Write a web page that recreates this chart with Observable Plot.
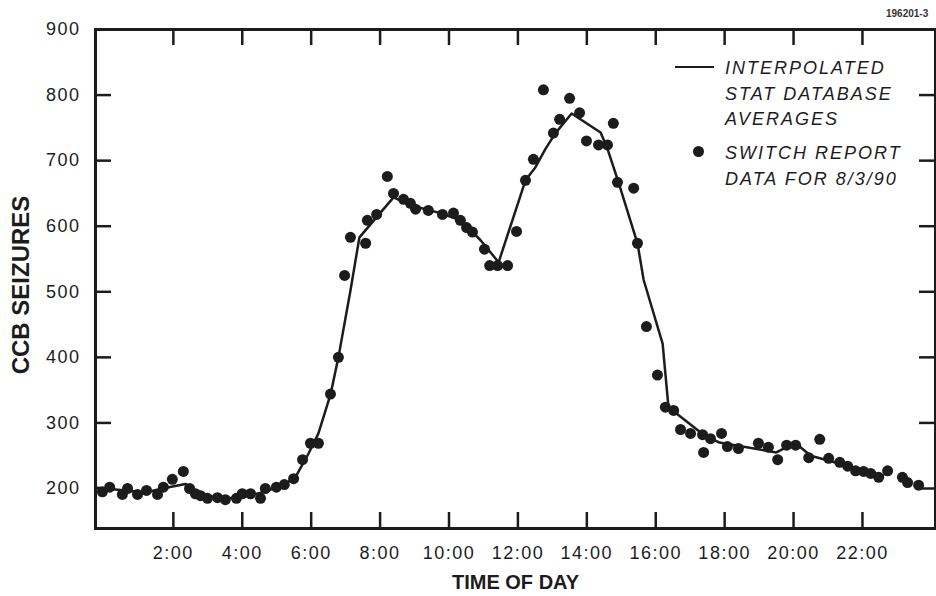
<!DOCTYPE html>
<html>
<head>
<meta charset="utf-8">
<script src="https://cdn.jsdelivr.net/npm/d3@7"></script>
<script src="https://cdn.jsdelivr.net/npm/@observablehq/plot@0.6"></script>
<style>
  html, body { margin: 0; padding: 0; background: #fff; }
  body { width: 936px; height: 596px; position: relative; overflow: hidden; font-family: "Liberation Sans", Arial, sans-serif; color: #1c1c1c; }
  #chart { position: absolute; left: 0; top: 0; }
  #chart g[aria-label="x-axis tick label"] text, #chart g[aria-label="y-axis tick label"] text { letter-spacing: 1.5px; }
  .legend { position: absolute; font-style: italic; font-size: 18px; line-height: 25.5px; letter-spacing: 2px; color: #1c1c1c; white-space: nowrap; }
  .key-line { position: absolute; left: 675px; top: 66px; width: 39px; height: 0; border-top: 2.5px solid #1c1c1c; }
  .key-dot { position: absolute; left: 693px; top: 146px; width: 11px; height: 11px; border-radius: 50%; background: #1c1c1c; }
  .code { position: absolute; left: 886px; top: 8px; font-size: 10px; font-weight: bold; white-space: nowrap; color: #333; }
</style>
</head>
<body>
<div id="chart"></div>
<div class="code">196201-3</div>
<div class="key-line"></div>
<div class="key-dot"></div>
<div class="legend" style="left:725px;top:56px">INTERPOLATED<br>STAT DATABASE<br>AVERAGES</div>
<div class="legend" style="left:725px;top:141px">SWITCH REPORT<br>DATA FOR 8/3/90</div>
<script>
// Switch report data for 8/3/90 (hour of day, CCB seizures)
const dotHours = [-0.06,0.15,0.52,0.67,0.96,1.22,1.54,1.71,1.97,2.29,2.47,2.64,2.79,2.99,3.28,3.51,3.83,4.0,4.24,4.53,4.67,4.99,5.22,5.49,5.75,5.98,6.21,6.56,6.79,6.97,7.14,7.58,7.63,7.90,8.21,8.39,8.68,8.88,9.03,9.40,9.81,10.13,10.33,10.51,10.68,11.03,11.18,11.41,11.70,11.96,12.22,12.45,12.74,13.03,13.21,13.50,13.79,13.99,14.34,14.60,14.77,14.89,15.36,15.47,15.73,16.05,16.28,16.52,16.72,17.01,17.36,17.39,17.59,17.91,18.08,18.40,18.98,19.27,19.54,19.80,20.06,20.44,20.76,21.02,21.34,21.57,21.80,22.03,22.24,22.47,22.73,23.16,23.31,23.63];
const dotValues = [195,202,191,200,191,197,191,202,214,226,200,192,189,185,186,183,185,192,192,185,200,202,206,215,244,269,269,344,400,525,583,574,609,618,676,650,641,635,626,624,618,620,609,598,591,565,540,540,540,592,670,702,808,742,763,795,773,730,724,724,757,667,658,574,447,373,324,319,290,284,282,255,276,284,264,261,269,263,244,266,266,247,275,246,240,234,227,226,223,217,227,217,209,205];

// Interpolated STAT database averages
const lineHours = [-0.2,0.61,1.19,1.68,2.35,2.64,2.93,3.51,3.89,4.59,5.17,5.54,5.92,6.21,6.56,6.79,7.14,7.40,8.39,8.88,9.75,10.33,10.91,11.44,12.22,12.51,12.8,13.09,13.56,14.40,14.60,14.92,15.47,15.65,16.20,16.37,17.36,17.85,19.5,19.8,20.2,20.5,21.4,22.6];
const lineValues = [201,197,194,200,207,197,189,185,186,194,205,217,253,284,343,400,502,583,644,632,620,609,579,545,670,690,718,742,772,743,718,667,574,518,421,324,283,270,255,263,263,250,237,220];

const xTicks = [2,4,6,8,10,12,14,16,18,20,22];
const yTicks = [200,300,400,500,600,700,800,900];
const xLabel = "TIME OF DAY";
const yLabel = "CCB SEIZURES";

const dotRows = dotHours.map((h, i) => ({h, v: dotValues[i]}));
const lineRows = lineHours.map((h, i) => ({h, v: lineValues[i]}));

const ink = "#1c1c1c";
const font = "'Liberation Sans', Arial, sans-serif";
const xDomain = [-0.26, 24.12];
const yDomain = [139, 900];
// inward tick length (16px) expressed in data units of each scale
const tickDX = 16 * (xDomain[1] - xDomain[0]) / 840;
const tickDY = 16 * (yDomain[1] - yDomain[0]) / 499;

const chart = Plot.plot({
  width: 936, height: 596, marginTop: 29, marginRight: 1, marginBottom: 68, marginLeft: 95,
  style: {fontFamily: font, color: ink, background: "#fff"},
  x: {domain: xDomain},
  y: {domain: yDomain},
  marks: [
    Plot.ruleX(xTicks, {x: d => d, y1: yDomain[0], y2: yDomain[0] + tickDY, stroke: ink, strokeWidth: 2.5}),
    Plot.ruleX(xTicks, {x: d => d, y1: yDomain[1] - tickDY, y2: yDomain[1], stroke: ink, strokeWidth: 2.5}),
    Plot.ruleY(yTicks, {y: d => d, x1: xDomain[0], x2: xDomain[0] + tickDX, stroke: ink, strokeWidth: 2.5}),
    Plot.ruleY(yTicks, {y: d => d, x1: xDomain[1] - tickDX, x2: xDomain[1], stroke: ink, strokeWidth: 2.5}),
    Plot.frame({stroke: ink, strokeWidth: 3}),
    Plot.axisX({anchor: "bottom", ticks: xTicks, tickSize: 0, tickPadding: 18, tickFormat: d => `${d}:00`, fontSize: 18, label: null, fill: ink}),
    Plot.axisY({anchor: "left", ticks: yTicks, tickSize: 0, tickPadding: 15, tickFormat: d => `${d}`, fontSize: 18, label: null, fill: ink}),
    Plot.text([xLabel], {frameAnchor: "bottom", lineAnchor: "middle", textAnchor: "middle", dy: 54, fontSize: 20, fontWeight: "bold", fill: ink}),
    Plot.text([yLabel], {frameAnchor: "left", lineAnchor: "middle", textAnchor: "middle", dx: -74, dy: 6, rotate: -90, fontSize: 24, fontWeight: "bold", fill: ink}),
    Plot.line(lineRows, {x: "h", y: "v", stroke: ink, strokeWidth: 2.5}),
    Plot.dot(dotRows, {x: "h", y: "v", r: 5.5, fill: ink, stroke: "none"})
  ]
});
document.getElementById("chart").appendChild(chart);
</script>
</body>
</html>
